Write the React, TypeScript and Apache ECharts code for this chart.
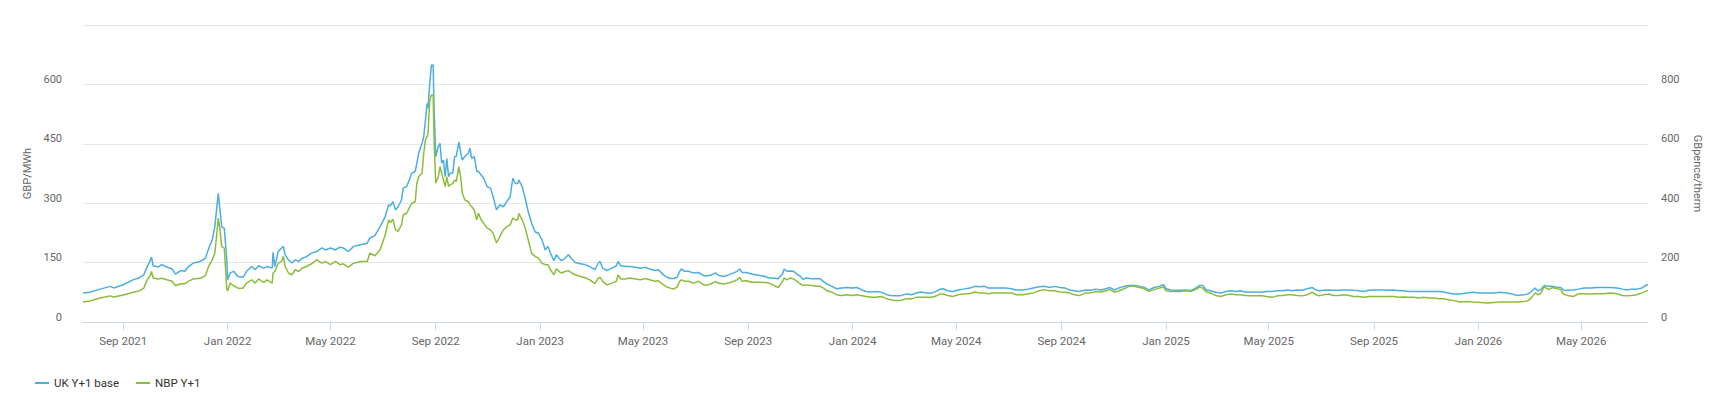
import React, { useEffect, useRef } from "react";
import * as echarts from "echarts";

// ---- data ----
const axisStart = "2021-07-16";
const axisEnd = "2026-07-18";
const monthNames = ["Jan", "Feb", "Mar", "Apr", "May", "Jun", "Jul", "Aug", "Sep", "Oct", "Nov", "Dec"];
const tickMonths = [1, 5, 9];

const dates: string[] = [
  // 2021 H2
  "2021-07-16","2021-07-24","2021-08-05","2021-08-17","2021-08-21","2021-09-01","2021-09-13","2021-09-19","2021-09-25","2021-09-29","2021-10-02","2021-10-04","2021-10-06","2021-10-12","2021-10-16","2021-10-22","2021-10-28","2021-11-01","2021-11-07","2021-11-12","2021-11-16","2021-11-22","2021-11-30","2021-12-06","2021-12-10","2021-12-14","2021-12-17","2021-12-19","2021-12-21","2021-12-23","2021-12-25","2021-12-28","2021-12-31","2022-01-01","2022-01-04","2022-01-08","2022-01-13","2022-01-19",
  // 2022 H1
  "2022-01-23","2022-01-29","2022-02-02","2022-02-06","2022-02-12","2022-02-16","2022-02-22","2022-02-23","2022-02-25","2022-03-01","2022-03-05","2022-03-07","2022-03-09","2022-03-13","2022-03-17","2022-03-21","2022-03-25","2022-03-29","2022-04-03","2022-04-09","2022-04-15","2022-04-21","2022-04-25","2022-05-01","2022-05-07","2022-05-12","2022-05-16","2022-05-22","2022-05-28","2022-06-05","2022-06-13","2022-06-16","2022-06-22","2022-06-28","2022-07-04","2022-07-08","2022-07-10","2022-07-13",
  // 2022 H2
  "2022-07-16","2022-07-19","2022-07-23","2022-07-25","2022-07-29","2022-08-02","2022-08-04","2022-08-08","2022-08-10","2022-08-12","2022-08-16","2022-08-18","2022-08-20","2022-08-22","2022-08-23","2022-08-25","2022-08-27","2022-08-29","2022-08-30","2022-09-01","2022-09-04","2022-09-06","2022-09-08","2022-09-10","2022-09-12","2022-09-14","2022-09-16","2022-09-18","2022-09-21","2022-09-23","2022-09-25","2022-09-28","2022-09-30","2022-10-02","2022-10-05","2022-10-09","2022-10-11","2022-10-13","2022-10-16","2022-10-19","2022-10-21","2022-10-24","2022-10-27","2022-10-31","2022-11-04","2022-11-07","2022-11-11","2022-11-15","2022-11-19","2022-11-23","2022-11-27","2022-11-30","2022-12-03","2022-12-06","2022-12-07","2022-12-11","2022-12-14","2022-12-18","2022-12-22","2022-12-26","2022-12-30","2023-01-03","2023-01-07","2023-01-10","2023-01-13",
  // 2023 H1
  "2023-01-17","2023-01-20","2023-01-23","2023-01-26","2023-01-30","2023-02-03","2023-02-07","2023-02-11","2023-02-17","2023-02-22","2023-02-28","2023-03-06","2023-03-10","2023-03-12","2023-03-15","2023-03-20","2023-03-26","2023-03-31","2023-04-02","2023-04-05","2023-04-10","2023-04-16","2023-04-22","2023-04-28","2023-05-04","2023-05-09","2023-05-15","2023-05-19","2023-05-25","2023-05-29","2023-06-02","2023-06-06","2023-06-10","2023-06-13","2023-06-15","2023-06-19","2023-06-23","2023-06-29","2023-07-05","2023-07-11","2023-07-16",
  // 2023 H2
  "2023-07-19","2023-07-25","2023-07-28","2023-08-03","2023-08-09","2023-08-15","2023-08-19","2023-08-22","2023-08-25","2023-08-30","2023-09-05","2023-09-13","2023-09-21","2023-09-25","2023-09-30","2023-10-06","2023-10-11","2023-10-13","2023-10-16","2023-10-20","2023-10-24","2023-10-28","2023-11-01","2023-11-04","2023-11-08","2023-11-14","2023-11-20","2023-11-24","2023-11-28","2023-12-02","2023-12-08","2023-12-13","2023-12-19","2023-12-25","2023-12-31","2024-01-06","2024-01-12","2024-01-17","2024-01-23","2024-01-29","2024-02-02","2024-02-06","2024-02-10","2024-02-14","2024-02-19",
  // 2024
  "2024-02-25","2024-03-04","2024-03-10","2024-03-15","2024-03-21","2024-03-27","2024-04-02","2024-04-06","2024-04-12","2024-04-16","2024-04-21","2024-04-27","2024-05-03","2024-05-09","2024-05-17","2024-05-23","2024-05-28","2024-06-03","2024-06-07","2024-06-13","2024-06-21","2024-06-28","2024-07-04","2024-07-10","2024-07-18","2024-07-24","2024-07-30","2024-08-06","2024-08-12","2024-08-18","2024-08-24","2024-08-30","2024-09-05","2024-09-10","2024-09-16","2024-09-22",
  // 2024-2025
  "2024-09-29","2024-10-05","2024-10-11","2024-10-17","2024-10-23","2024-10-27","2024-11-02","2024-11-07","2024-11-13","2024-11-19","2024-11-25","2024-12-01","2024-12-07","2024-12-12","2024-12-18","2024-12-24","2024-12-29","2025-01-01","2025-01-07","2025-01-13","2025-01-18","2025-01-24","2025-01-30","2025-02-05","2025-02-09","2025-02-13","2025-02-17","2025-02-22","2025-02-28","2025-03-06","2025-03-12","2025-03-18","2025-03-24","2025-03-29","2025-04-04","2025-04-10","2025-04-16","2025-04-22","2025-04-28",
  // 2025
  "2025-05-05","2025-05-11","2025-05-17","2025-05-23","2025-05-28","2025-06-03","2025-06-09","2025-06-15","2025-06-21","2025-06-25","2025-06-29","2025-07-04","2025-07-10","2025-07-16","2025-07-22","2025-07-28","2025-08-03","2025-08-08","2025-08-14","2025-08-20","2025-08-26","2025-09-01","2025-09-07","2025-09-12","2025-09-18","2025-09-24","2025-09-30","2025-10-06","2025-10-12","2025-10-17","2025-10-23","2025-10-29","2025-11-04","2025-11-10","2025-11-16","2025-11-21","2025-11-27","2025-12-03",
  // 2025-2026
  "2025-12-11","2025-12-18","2025-12-26","2026-01-03","2026-01-11","2026-01-19","2026-01-26","2026-02-03","2026-02-09","2026-02-15","2026-02-23","2026-02-28","2026-03-04","2026-03-08","2026-03-11","2026-03-14","2026-03-19","2026-03-21","2026-03-24","2026-03-28","2026-04-03","2026-04-07","2026-04-10","2026-04-16","2026-04-22","2026-04-28","2026-05-04","2026-05-12","2026-05-19","2026-05-27","2026-06-04","2026-06-12","2026-06-18","2026-06-23","2026-06-29","2026-07-05","2026-07-11","2026-07-15","2026-07-18",
];

// UK Y+1 base, GBP/MWh (left axis)
const ukBase: number[] = [
  73,75,83,90,86,94,107,111,119,140,153,164,142,139,145,139,134,121,130,128,140,149,153,161,187,208,241,283,325,283,240,237,157,107,124,128,115,113,
  128,140,132,142,136,140,136,176,140,178,187,191,170,157,149,157,153,161,165,174,178,187,182,187,182,189,187,178,191,195,199,212,218,241,266,296,293,304,
  283,291,308,338,342,363,376,380,401,426,451,468,510,552,540,603,649,649,544,418,443,451,401,409,367,413,367,376,376,418,418,455,430,409,418,426,439,413,418,380,380,371,363,342,338,317,283,296,291,304,317,363,350,350,359,342,317,279,250,228,224,208,182,191,174,
  155,170,161,155,161,170,159,150,147,145,140,132,149,153,136,130,136,142,153,142,140,140,138,136,138,134,130,132,119,113,110,110,113,128,134,128,128,124,125,117,117,
  118,124,118,115,119,124,128,134,125,125,121,118,115,111,111,109,121,134,128,129,128,121,115,108,111,109,109,109,102,96,90,84,86,87,86,87,81,77,76,77,76,73,69,67,66,
  66,71,69,73,76,73,73,76,83,84,79,77,81,83,86,90,89,90,86,86,86,86,84,81,81,83,86,89,90,87,90,87,86,81,79,77,
  81,80,83,81,84,87,81,86,90,92,92,90,87,81,87,90,94,84,81,80,80,81,79,86,92,92,81,79,75,73,77,79,77,79,75,76,76,75,77,
  77,79,79,81,79,81,80,84,87,81,79,80,81,80,80,81,81,80,79,77,80,81,81,81,80,81,79,79,77,77,77,77,77,77,77,76,73,71,
  71,73,75,73,73,73,75,73,71,67,69,71,77,86,79,81,92,91,90,90,88,87,81,80,81,83,86,86,87,87,87,86,83,81,83,83,86,92,94,
];

// NBP Y+1, GBpence/therm (right axis)
const nbp: number[] = [
  67,71,81,88,84,91,100,104,114,142,153,170,148,145,147,142,137,122,129,129,137,145,147,156,189,209,232,288,350,310,254,249,109,105,131,122,114,114,
  131,142,131,145,133,142,131,165,170,198,204,221,187,165,159,176,170,182,187,196,209,198,204,193,204,193,196,185,198,204,204,232,223,243,293,344,335,346,
  310,305,327,361,366,389,400,405,467,489,501,568,613,624,635,747,764,764,624,467,489,523,501,478,456,489,456,462,467,478,473,523,489,434,411,405,394,389,377,344,366,344,333,316,310,299,266,288,310,321,327,350,344,344,366,344,321,277,232,221,215,198,193,193,176,
  159,179,170,165,170,173,165,159,153,150,142,129,148,150,137,125,131,137,159,145,145,148,145,142,146,142,137,139,125,118,114,111,118,137,142,137,137,131,137,125,125,
  128,137,131,128,131,137,142,150,137,139,134,134,133,131,125,116,137,148,142,148,145,137,128,123,125,123,120,120,114,105,100,92,89,92,89,92,88,86,83,83,86,83,78,75,72,
  72,78,78,83,83,83,83,86,94,94,89,86,92,94,96,101,98,98,95,98,98,98,98,92,92,95,98,105,109,105,105,101,100,98,92,89,
  98,98,103,101,105,109,101,105,112,120,120,116,112,103,109,114,118,105,103,103,103,105,103,109,118,114,101,98,89,86,92,94,92,92,89,88,88,89,86,
  83,88,89,92,92,89,88,92,100,92,88,92,94,89,89,92,89,86,86,83,86,86,86,86,86,86,83,84,83,83,81,83,81,81,78,78,75,72,
  67,69,67,66,64,66,67,67,67,67,69,72,83,98,92,94,120,114,109,116,112,109,94,88,86,95,95,94,95,95,98,95,89,88,89,92,98,103,106,
];

const leftTicks = { min: 0, max: 750, interval: 150 };
const rightTicks = { min: 0, max: 1000, interval: 200 };

const seriesNames = ["UK Y+1 base", "NBP Y+1"];
const colors = ["#4aaede", "#8cbd3a"];

function buildDays(start: string, end: string): string[] {
  const out: string[] = [];
  const s = Date.parse(start + "T00:00:00Z");
  const e = Date.parse(end + "T00:00:00Z");
  for (let t = s; t <= e; t += 86400000) {
    out.push(new Date(t).toISOString().slice(0, 10));
  }
  return out;
}

function isTickDay(value: string): boolean {
  if (!value.endsWith("-01")) return false;
  const m = parseInt(value.slice(5, 7), 10);
  return tickMonths.indexOf(m) >= 0;
}

export default function App() {
  const ref = useRef<HTMLDivElement>(null);

  useEffect(() => {
    document.body.style.margin = "0";
    if (!ref.current) return;
    const chart = echarts.init(ref.current, undefined, { renderer: "svg" });
    const days = buildDays(axisStart, axisEnd);
    const font = "Roboto, 'Noto Sans', sans-serif";
    const tickFn = (_i: number, v: string) => isTickDay(v);

    chart.setOption({
      animation: false,
      textStyle: { fontFamily: font },
      grid: { left: 83, right: 76, top: 25, bottom: 80, containLabel: false },
      legend: {
        data: seriesNames,
        left: 30,
        top: 372,
        icon: "rect",
        itemWidth: 14,
        itemHeight: 2,
        itemGap: 17,
        textStyle: { color: "#333333", fontSize: 11.5, fontFamily: font },
      },
      xAxis: {
        type: "category",
        data: days,
        boundaryGap: false,
        axisLine: { show: true, lineStyle: { color: "#ccd6eb", width: 1 } },
        axisTick: { show: true, interval: tickFn, length: 8, lineStyle: { color: "#ccd6eb" } },
        axisLabel: {
          interval: tickFn,
          color: "#666666",
          fontSize: 11.5,
          margin: 13,
          fontFamily: font,
          formatter: (v: string) => monthNames[parseInt(v.slice(5, 7), 10) - 1] + " " + v.slice(0, 4),
        },
        splitLine: { show: false },
      },
      yAxis: [
        {
          type: "value",
          position: "left",
          min: leftTicks.min,
          max: leftTicks.max,
          interval: leftTicks.interval,
          name: "GBP/MWh",
          nameLocation: "middle",
          nameGap: 37,
          nameTextStyle: { color: "#666666", fontSize: 11, fontFamily: font },
          axisLine: { show: false },
          axisTick: { show: false },
          axisLabel: {
            color: "#666666",
            fontSize: 11,
            margin: 21,
            showMaxLabel: false,
            fontFamily: font,
            verticalAlign: "bottom",
            lineHeight: 10,
          },
          splitLine: { show: true, lineStyle: { color: "#e6e6e6", width: 1 } },
        },
        {
          type: "value",
          position: "right",
          min: rightTicks.min,
          max: rightTicks.max,
          interval: rightTicks.interval,
          name: "GBpence/therm",
          nameLocation: "middle",
          nameRotate: -90,
          nameGap: 44,
          nameTextStyle: { color: "#666666", fontSize: 11, fontFamily: font },
          axisLine: { show: false },
          axisTick: { show: false },
          axisLabel: {
            color: "#666666",
            fontSize: 11,
            margin: 13,
            showMaxLabel: false,
            fontFamily: font,
            verticalAlign: "bottom",
            lineHeight: 10,
          },
          splitLine: { show: false },
        },
      ],
      series: [
        {
          name: seriesNames[0],
          type: "line",
          yAxisIndex: 0,
          data: dates.map((d, i) => [d, ukBase[i]]),
          showSymbol: false,
          symbol: "none",
          lineStyle: { color: colors[0], width: 1.5 },
          itemStyle: { color: colors[0] },
        },
        {
          name: seriesNames[1],
          type: "line",
          yAxisIndex: 1,
          data: dates.map((d, i) => [d, nbp[i]]),
          showSymbol: false,
          symbol: "none",
          lineStyle: { color: colors[1], width: 1.5 },
          itemStyle: { color: colors[1] },
        },
      ],
    });

    return () => {
      chart.dispose();
    };
  }, []);

  return <div ref={ref} style={{ width: 1724, height: 402 }} />;
}
